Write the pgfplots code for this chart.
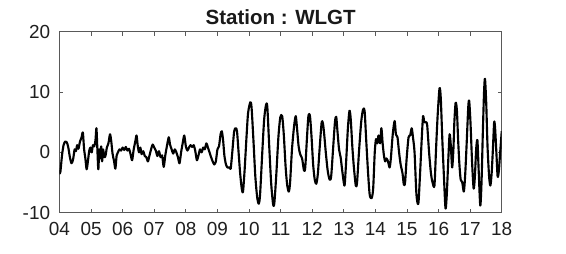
\documentclass[border=0pt]{standalone}
\usepackage{pgfplots}
\pgfplotsset{compat=1.18}
\usepackage{pgfplotstable}
\usepackage{fontspec}
\setmainfont{Liberation Sans}
\pgfplotstableread{
day val
4.00 -3.5
4.03 -3.2
4.08 -0.5
4.13 1.2
4.18 1.8
4.23 1.7
4.28 0.8
4.33 -0.8
4.38 -1.8
4.43 -1.2
4.48 0.5
4.52 0.2
4.56 1.2
4.60 0.6
4.65 1.8
4.70 2.5
4.74 3.3
4.78 0.5
4.82 -1.0
4.86 -2.8
4.90 -1.5
4.94 0.2
4.98 0.8
5.02 0.0
5.06 1.2
5.10 1.0
5.14 2.0
5.17 4.0
5.20 0.5
5.23 -2.8
5.26 0.5
5.29 -1.0
5.32 1.0
5.35 -1.5
5.38 0.5
5.42 -0.8
5.46 -0.5
5.50 0.8
5.55 1.5
5.60 3.0
5.64 1.8
5.68 -0.2
5.73 -1.5
5.77 -2.7
5.81 -0.5
5.85 0.0
5.90 0.5
5.95 0.3
6.00 0.8
6.05 0.4
6.10 0.9
6.15 0.3
6.20 0.6
6.25 -0.3
6.30 -1.3
6.35 0.5
6.40 1.8
6.44 2.8
6.48 1.0
6.52 0.0
6.56 0.8
6.60 -0.3
6.65 0.2
6.70 -0.6
6.75 -0.8
6.80 -1.5
6.85 -0.5
6.90 0.5
6.95 1.3
7.00 0.8
7.05 0.3
7.10 -0.6
7.15 0.2
7.20 -0.8
7.25 -0.5
7.30 -2.4
7.35 -0.5
7.40 1.0
7.46 2.5
7.50 1.3
7.55 0.5
7.60 -0.2
7.65 0.5
7.70 0.0
7.75 -0.8
7.80 -1.8
7.85 0.0
7.90 1.5
7.95 2.8
8.00 1.0
8.05 0.3
8.10 0.8
8.15 1.2
8.20 0.9
8.25 1.2
8.30 0.2
8.35 -1.3
8.40 -0.5
8.45 0.5
8.50 0.0
8.55 0.8
8.60 0.5
8.65 1.5
8.70 0.8
8.75 0.0
8.80 -0.8
8.85 -1.5
8.90 -2.0
8.95 -1.5
9.00 0.5
9.05 1.0
9.10 3.0
9.14 3.5
9.18 2.0
9.22 -0.5
9.27 -2.0
9.32 -2.5
9.38 -2.5
9.42 -2.7
9.47 0.0
9.53 3.5
9.58 4.0
9.62 3.5
9.67 0.0
9.72 -3.5
9.77 -6.0
9.81 -6.5
9.86 -3.0
9.92 2.5
9.97 6.5
10.04 8.3
10.08 7.5
10.14 2.0
10.20 -4.0
10.26 -7.5
10.31 -8.5
10.35 -7.0
10.42 0.0
10.48 5.5
10.54 7.9
10.58 7.5
10.64 1.0
10.70 -5.0
10.76 -8.5
10.80 -8.5
10.86 -4.0
10.93 2.5
10.99 5.8
11.05 6.0
11.10 3.0
11.16 -2.5
11.21 -5.5
11.26 -6.5
11.30 -5.0
11.36 0.5
11.43 4.5
11.48 6.0
11.52 4.0
11.57 1.0
11.62 -0.3
11.68 -1.0
11.74 -3.0
11.78 -2.5
11.83 2.0
11.88 6.0
11.93 6.0
11.98 2.5
12.03 -2.0
12.08 -4.5
12.13 -5.2
12.18 -3.5
12.24 1.0
12.30 5.0
12.34 4.8
12.38 3.0
12.43 0.0
12.49 -3.0
12.55 -4.5
12.60 -4.0
12.66 0.5
12.72 5.0
12.76 5.9
12.80 3.5
12.85 0.5
12.90 -0.8
12.95 -3.0
13.00 -5.0
13.03 -5.3
13.08 -1.0
13.13 4.0
13.18 6.9
13.22 5.5
13.27 1.0
13.32 -2.5
13.38 -5.5
13.42 -5.0
13.48 0.0
13.55 5.0
13.61 7.1
13.66 6.8
13.71 2.0
13.77 -3.5
13.82 -7.0
13.88 -7.6
13.93 -6.0
13.98 0.0
14.02 2.2
14.06 1.5
14.10 2.8
14.15 1.5
14.19 4.0
14.23 1.5
14.27 -0.5
14.31 -1.5
14.35 -1.0
14.40 -1.5
14.45 -2.5
14.49 -1.0
14.55 3.0
14.61 5.2
14.65 3.0
14.70 2.5
14.75 0.0
14.80 -2.0
14.86 -3.5
14.90 -5.3
14.94 -5.0
14.99 -1.0
15.05 2.5
15.10 2.8
15.15 4.0
15.19 2.5
15.24 0.0
15.30 -7.0
15.36 -8.5
15.41 -4.0
15.47 2.5
15.51 6.0
15.55 5.0
15.60 5.0
15.64 4.5
15.70 0.0
15.76 -3.5
15.81 -5.0
15.87 -5.5
15.92 0.5
15.97 6.0
16.03 10.6
16.07 9.0
16.12 2.0
16.17 -4.0
16.22 -9.3
16.26 -7.0
16.31 -1.0
16.35 3.0
16.39 1.0
16.43 -2.5
16.47 0.5
16.50 5.0
16.54 8.2
16.58 7.0
16.62 2.0
16.66 -2.0
16.70 -4.5
16.75 -5.0
16.80 -6.5
16.84 -4.0
16.89 1.5
16.94 7.5
16.97 8.5
17.01 5.0
17.06 -1.5
17.11 -6.0
17.15 -4.0
17.19 0.5
17.23 2.0
17.27 -3.0
17.32 -8.8
17.36 -5.0
17.40 3.0
17.44 10.0
17.47 12.2
17.51 8.0
17.55 1.0
17.60 -4.0
17.64 -5.5
17.68 -3.5
17.72 0.5
17.76 5.0
17.79 4.0
17.83 0.0
17.87 -4.0
17.91 -3.0
17.95 0.0
18.00 3.5
}\series
\begin{document}
\begin{tikzpicture}
\path[use as bounding box] (0,0) rectangle (424.5pt,189.75pt);
\begin{axis}[
  at={(44.6pt,30.2pt)}, anchor=south west,
  scale only axis, width=331.7pt, height=135.8pt,
  xmin=4, xmax=18, ymin=-10, ymax=20,
  xtick={4,5,...,18},
  xticklabels={04,05,06,07,08,09,10,11,12,13,14,15,16,17,18},
  ytick={-10,0,10,20},
  yticklabels={-10,0,10,20},
  tick align=inside,
  major tick length=3pt,
  axis line style={black!65, line width=0.6pt},
  every tick/.style={black!65, line width=0.6pt},
  tick label style={font=\fontsize{14.2}{16}\selectfont, text=black!88},
  xticklabel style={yshift=-3.5pt},
  yticklabel style={xshift=-3.5pt},
]
\addplot[black, line width=1.6pt, line join=round, smooth, tension=0.45] table[x=day, y=val] {\series};
\end{axis}
\node[anchor=base, font=\bfseries\fontsize{15.4}{18}\selectfont, text=black!90] at (210.5pt,171.5pt) {Station : WLGT};
\end{tikzpicture}
\end{document}
